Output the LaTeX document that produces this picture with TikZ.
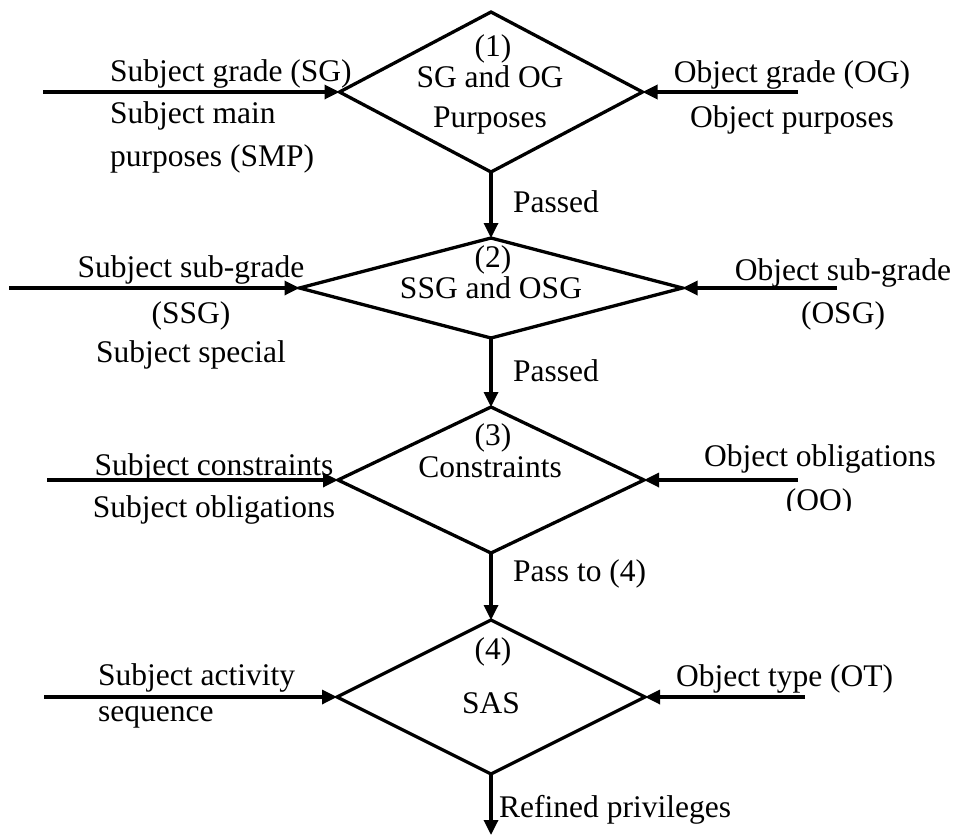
\documentclass[tikz,border=0pt]{standalone}
\usepackage{fontspec}
\setmainfont{Liberation Serif}
\usetikzlibrary{shapes.geometric,arrows.meta}
\begin{document}
\begin{tikzpicture}[x=1pt,y=-1pt,
  gate/.style={diamond,draw,line width=3.3pt,inner sep=0pt,outer sep=0pt},
  flow/.style={line width=3.3pt,-{Triangle[length=15pt,width=14pt]}},
  lbl/.style={inner sep=0pt,font=\fontsize{31.5}{38}\selectfont},
]
\useasboundingbox (0,0) rectangle (957,835);

% decision diamonds
\node[gate,minimum width=303pt,minimum height=160pt] (d1) at (491,92) {};
\node[gate,minimum width=383pt,minimum height=100pt] (d2) at (491,288) {};
\node[gate,minimum width=306pt,minimum height=146pt] (d3) at (491,480) {};
\node[gate,minimum width=308pt,minimum height=154pt] (d4) at (491,697) {};

% free ends of the input and output arrows
\coordinate (s1) at (43,92);   \coordinate (o1) at (798,92);
\coordinate (s2) at (9,288);   \coordinate (o2) at (837,288);
\coordinate (s3) at (47,480);  \coordinate (o3) at (798,480);
\coordinate (s4) at (44,697);  \coordinate (o4) at (805,697);
\coordinate (out) at (491,835);

% connectors
\draw[flow] (s1) -- (d1.west);
\draw[flow] (o1) -- (d1.east);
\draw[flow] (s2) -- (d2.west);
\draw[flow] (o2) -- (d2.east);
\draw[flow] (s3) -- (d3.west);
\draw[flow] (o3) -- (d3.east);
\draw[flow] (s4) -- (d4.west);
\draw[flow] (o4) -- (d4.east);
\draw[flow] (d1.south) -- (d2.north);
\draw[flow] (d2.south) -- (d3.north);
\draw[flow] (d3.south) -- (d4.north);
\draw[flow] (d4.south) -- (out);

% stage 1
\node[lbl,anchor=base west] (t1a) at (110,81) {Subject grade (SG)};
\node[lbl,anchor=base west] (t1b) at (110,123) {Subject main};
\node[lbl,anchor=base west] (t1c) at (110,166) {purposes (SMP)};
\node[lbl,anchor=base] (n1) at (493,56) {(1)};
\node[lbl,anchor=base] (c1a) at (490,87) {SG and OG};
\node[lbl,anchor=base] (c1b) at (490,127) {Purposes};
\node[lbl,anchor=base] (r1a) at (792,82) {Object grade (OG)};
\node[lbl,anchor=base] (r1b) at (792,127) {Object purposes};
\node[lbl,anchor=base west] (p1) at (513,212) {Passed};

% stage 2
\node[lbl,anchor=base] (t2a) at (191,277) {Subject sub-grade};
\node[lbl,anchor=base] (t2b) at (191,323) {(SSG)};
\node[lbl,anchor=base] (t2c) at (191,362) {Subject special};
\node[lbl,anchor=base] (n2) at (493,267) {(2)};
\node[lbl,anchor=base] (c2) at (491,298) {SSG and OSG};
\node[lbl,anchor=base] (r2a) at (843,280) {Object sub-grade};
\node[lbl,anchor=base] (r2b) at (843,323) {(OSG)};
\node[lbl,anchor=base west] (p2) at (513,381) {Passed};

% stage 3
\node[lbl,anchor=base] (t3a) at (214,475) {Subject constraints};
\node[lbl,anchor=base] (t3b) at (214,517) {Subject obligations};
\node[lbl,anchor=base] (n3) at (493,445) {(3)};
\node[lbl,anchor=base] (c3) at (490,477) {Constraints};
\node[lbl,anchor=base] (r3a) at (820,466) {Object obligations};
\begin{scope}
  \clip (700,470) rectangle (957,510);
  \node[lbl,anchor=base] (r3b) at (819,510) {(OO)};
\end{scope}
\node[lbl,anchor=base west] (p3) at (513,581) {Pass to (4)};

% stage 4
\node[lbl,anchor=base west] (t4a) at (98,685) {Subject activity};
\node[lbl,anchor=base west] (t4b) at (98,721) {sequence};
\node[lbl,anchor=base] (n4) at (493,659) {(4)};
\node[lbl,anchor=base] (c4) at (491,713) {SAS};
\node[lbl,anchor=base west] (r4) at (676,686) {Object type (OT)};
\node[lbl,anchor=base west] (p4) at (499,817) {Refined privileges};
\end{tikzpicture}
\end{document}
